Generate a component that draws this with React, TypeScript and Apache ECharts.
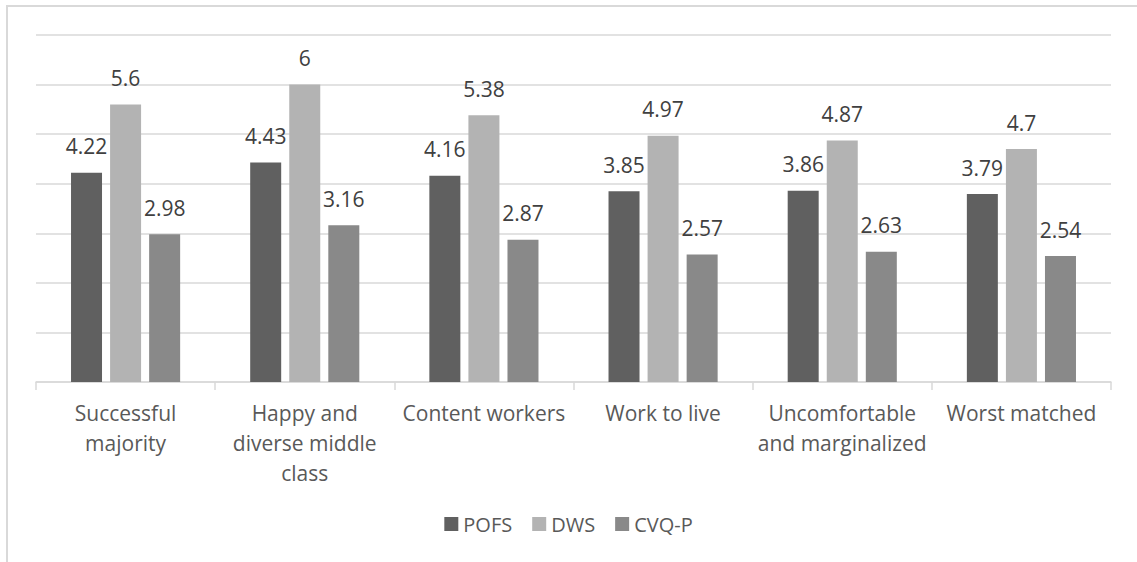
import React, { useEffect, useRef } from "react";
import * as echarts from "echarts";

const categories = [
  "Successful\nmajority",
  "Happy and\ndiverse middle\nclass",
  "Content workers",
  "Work to live",
  "Uncomfortable\nand marginalized",
  "Worst matched",
];
const pofs = [4.22, 4.43, 4.16, 3.85, 3.86, 3.79];
const dws = [5.6, 6, 5.38, 4.97, 4.87, 4.7];
const cvqp = [2.98, 3.16, 2.87, 2.57, 2.63, 2.54];
const seriesNames = ["POFS", "DWS", "CVQ-P"];
const colors = ["#606060", "#b3b3b3", "#898989"];

const FONT = "'Open Sans', sans-serif";

export default function App() {
  const ref = useRef<HTMLDivElement>(null);
  useEffect(() => {
    document.body.style.margin = "0";
    const chart = echarts.init(ref.current!, null, { renderer: "svg" });
    const values = [pofs, dws, cvqp];
    const label = {
      show: true,
      position: "top",
      distance: 16,
      color: "#404040",
      fontSize: 21,
      fontFamily: FONT,
    };
    chart.setOption({
      animation: false,
      backgroundColor: "#ffffff",
      graphic: [
        {
          type: "rect",
          shape: { x: 7, y: 6, width: 1300, height: 700 },
          style: { fill: "none", stroke: "#d9d9d9", lineWidth: 2 },
          silent: true,
        },
      ],
      grid: { left: 36, right: 26, top: 35, bottom: 180, containLabel: false },
      legend: {
        data: seriesNames,
        bottom: 23,
        left: "center",
        itemWidth: 14,
        itemHeight: 14,
        itemGap: 20,
        icon: "rect",
        textStyle: { color: "#595959", fontSize: 20, fontFamily: FONT },
      },
      xAxis: {
        type: "category",
        data: categories,
        axisLine: { show: true, lineStyle: { color: "#d9d9d9", width: 1.5 } },
        axisTick: { show: true, length: 8, lineStyle: { color: "#d9d9d9", width: 1.5 } },
        axisLabel: {
          color: "#595959",
          fontSize: 21,
          fontFamily: FONT,
          lineHeight: 30,
          margin: 16,
          interval: 0,
        },
      },
      yAxis: {
        type: "value",
        min: 0,
        max: 7,
        interval: 1,
        axisLabel: { show: false },
        axisLine: { show: false },
        axisTick: { show: false },
        splitLine: { lineStyle: { color: "#d9d9d9", width: 1.5 } },
      },
      series: seriesNames.map((name, i) => ({
        name,
        type: "bar",
        data: values[i],
        barWidth: 31,
        barGap: "26%",
        itemStyle: { color: colors[i] },
        label,
      })),
    });
    return () => chart.dispose();
  }, []);
  return <div ref={ref} style={{ width: 1137, height: 562 }} />;
}
